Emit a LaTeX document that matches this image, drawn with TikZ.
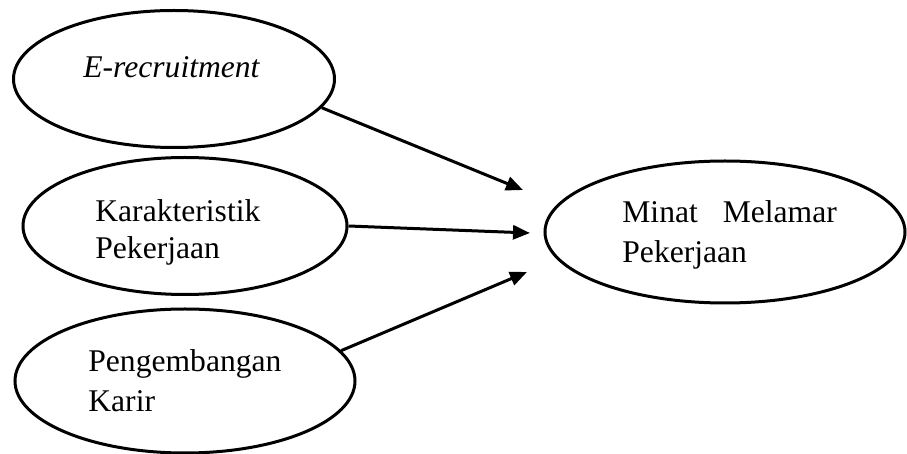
\documentclass[tikz,border=0pt]{standalone}
\usepackage{fontspec}
\setmainfont{Liberation Serif}
\usepackage{tikz}
\usetikzlibrary{arrows.meta, positioning, shapes.geometric}

\tikzset{
  varnode/.style={ellipse, draw, line width=1.5pt, inner sep=0pt},
  vartext/.style={anchor=base west, inner sep=0pt, align=left,
    font=\fontsize{15.8}{20}\selectfont},
  varlink/.style={line width=1.5pt, -{Triangle[length=8.5pt, width=7pt]}}
}

\begin{document}
\begin{tikzpicture}[x=0.5pt, y=-0.5pt]
  \useasboundingbox (0,0) rectangle (907,454);
  % Independent variables and the dependent one
  \node[varnode, minimum width=160.5pt, minimum height=68.5pt] (erec) at (174,79) {};
  \node[varnode, minimum width=162pt, minimum height=68.5pt] (karak) at (185,226) {};
  \node[varnode, minimum width=170pt, minimum height=72pt] (karir) at (185,381) {};
  \node[varnode, minimum width=180pt, minimum height=71pt] (minat) at (725,232) {};
  % base of a two-line label is its last line
  \node[vartext] (erectext) at (83,78) {\textit{E-recruitment}};
  \node[vartext, font=\fontsize{15.8}{18.5}\selectfont] (karaktext) at (95,259) {Karakteristik\\Pekerjaan};
  \node[vartext] (karirtext) at (88,412) {Pengembangan\\Karir};
  \node[vartext] (minattext) at (622,263) {Minat\hspace{8.5pt} Melamar\\Pekerjaan};
  % Arrow heads stop short of the dependent variable
  \coordinate (tipa) at (523,190);
  \coordinate (tipb) at (530,233);
  \coordinate (tipc) at (527,272);
  \draw[varlink] (erec.-11) -- (tipa);
  \draw[varlink] (karak.east) -- (tipb);
  \draw[varlink] (karir.11) -- (tipc);
\end{tikzpicture}
\end{document}
